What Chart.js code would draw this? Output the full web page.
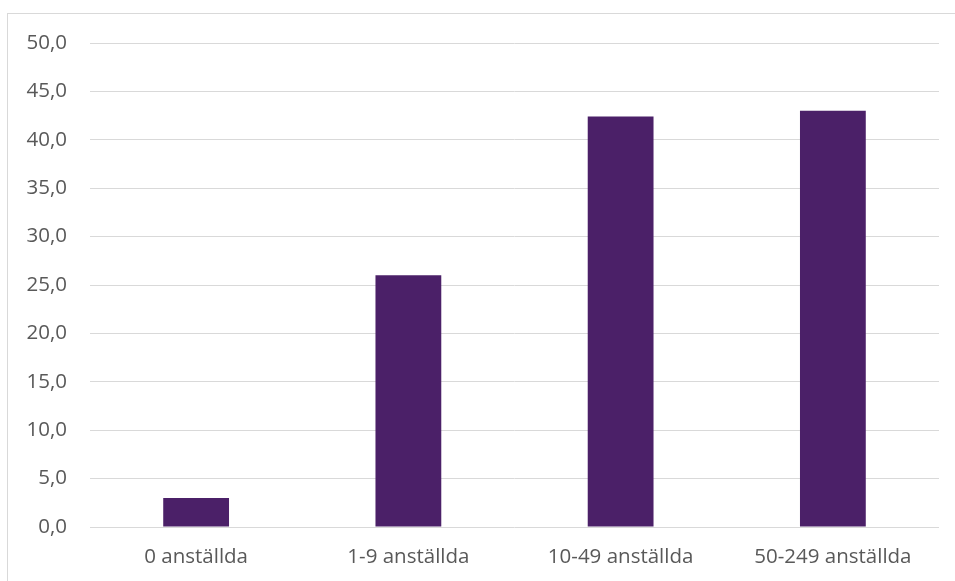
<!DOCTYPE html>
<html>
<head>
<meta charset="utf-8">
<script src="https://cdn.jsdelivr.net/npm/chart.js@4"></script>
<style>
  html, body { margin: 0; padding: 0; background: #fff; }
  #wrap { position: relative; width: 955px; height: 581px; overflow: hidden; }
  #frame { position: absolute; left: 7px; top: 13px; width: 960px; height: 600px;
           border-left: 1px solid #d9d9d9; border-top: 1px solid #d9d9d9; }
  canvas { position: absolute; left: 0; top: 0; }
</style>
</head>
<body>
<div id="wrap">
  <div id="frame"></div>
  <canvas id="chart" width="955" height="581"></canvas>
</div>
<script>
/* ---------- DATA ---------- */
const categories = ["0 anställda", "1-9 anställda", "10-49 anställda", "50-249 anställda"];
const values = [3.0, 26.0, 42.4, 43.0];
const yTicks = [0, 5, 10, 15, 20, 25, 30, 35, 40, 45, 50];

const FONT = "'Open Sans', 'Noto Sans', sans-serif";
const TEXT = "#595959";
const GRID = "#d9d9d9";

/* ---------- CHART ---------- */
const ctx = document.getElementById("chart").getContext("2d");

new Chart(ctx, {
  type: "bar",
  data: {
    labels: categories,
    datasets: [{
      data: values,
      backgroundColor: "#4b2068",
      borderWidth: 0,
      categoryPercentage: 1,
      barPercentage: 0.31
    }]
  },
  options: {
    responsive: false,
    animation: false,
    layout: { padding: { top: 43, right: 16, left: 0, bottom: 0 } },
    plugins: {
      legend: { display: false },
      tooltip: { enabled: false }
    },
    scales: {
      x: {
        grid: { display: false },
        border: { display: false },
        ticks: { color: TEXT, font: { family: FONT, size: 20.5 }, padding: 10, maxRotation: 0 },
        afterFit: s => { s.height = 54; }
      },
      y: {
        min: 0,
        max: 50,
        afterBuildTicks: s => { s.ticks = yTicks.map(v => ({ value: v })); },
        grid: { color: GRID, lineWidth: 1, drawTicks: false },
        border: { display: false },
        ticks: {
          color: TEXT,
          font: { family: FONT, size: 20.5 },
          padding: 23,
          callback: v => v.toFixed(1).replace(".", ",")
        },
        afterFit: s => { s.width = 90; }
      }
    }
  }
});
</script>
</body>
</html>
